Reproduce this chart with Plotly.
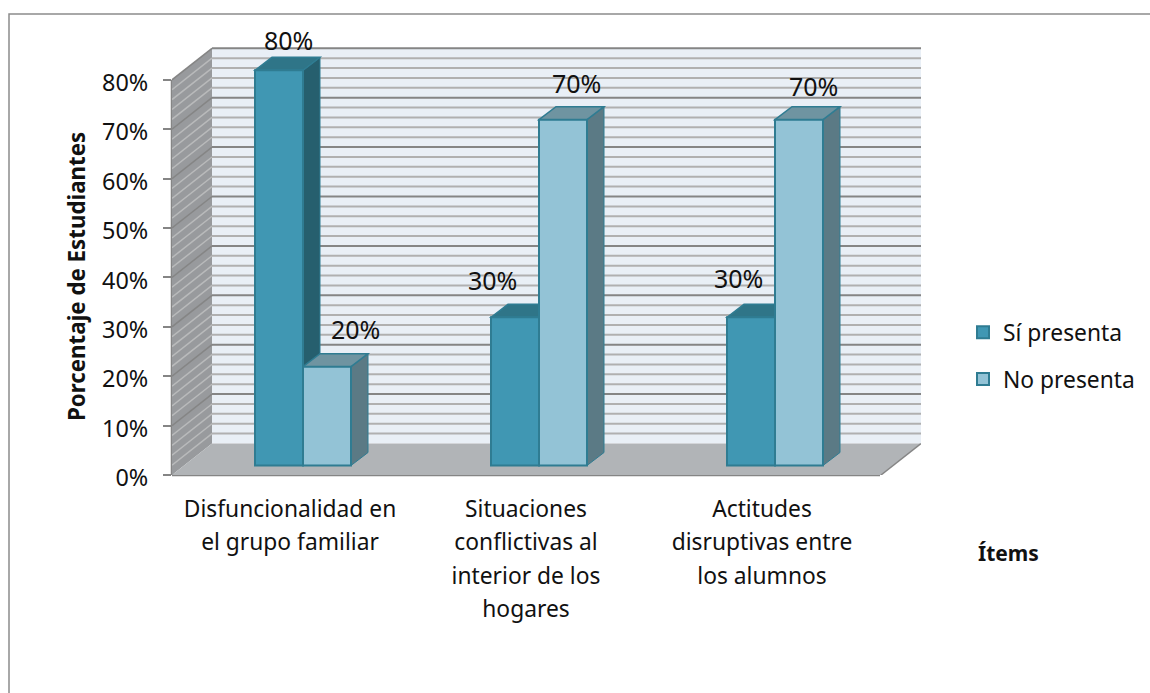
import plotly.graph_objects as go

categories = ["Disfuncionalidad en<br>el grupo familiar",
              "Situaciones<br>conflictivas al<br>interior de los<br>hogares",
              "Actitudes<br>disruptivas entre<br>los alumnos"]
si_presenta = [80, 30, 30]
no_presenta = [20, 70, 70]
series_names = ["Sí presenta", "No presenta"]
y_ticks = [0, 10, 20, 30, 40, 50, 60, 70, 80]
minor_ticks = [v for v in range(0, 81, 2) if v % 10 != 0]

FONT = "Noto Sans"
FS = 22.8
W, H = 1150, 693
L, R, T, B = 172, 921, 46, 475          # plot area in px
PX_CAT = 236.0                           # px per category
PX_PCT = 4.94                            # px per percent
WALL_DX, WALL_DY = 40 / PX_CAT, 31.5 / PX_PCT   # depth of the whole box
XMIN, XMAX = -0.5, 2.5 + (R - L - 3 * PX_CAT) / PX_CAT
YMAX = (B - T) / PX_PCT
BAR_W = 48 / PX_CAT
BAR_SHIFT = 13 / PX_CAT                  # bar front plane offset
BAR_BASE = 9.5 / PX_PCT
BAR_DX, BAR_DY = 17 / PX_CAT, 13 / PX_PCT

C_DARK, C_DARK_TOP, C_DARK_SIDE = "#4097b3", "#2f7588", "#265f6e"
C_LIGHT, C_LIGHT_TOP, C_LIGHT_SIDE = "#93c3d6", "#6f94a1", "#5b7a85"
C_EDGE = "#2f7c92"
C_WALL, C_SIDEWALL, C_FLOOR = "#e9eff6", "#989a9d", "#b1b4b7"
C_MAJOR, C_MINOR, C_MINOR_SIDE = "#858585", "#b0b0b0", "#b9babb"


def px(x):
    return (x - L) / (R - L)


def py(y):
    return (B - y) / (B - T)


def poly(pts, fill, line=None, lw=0):
    d = "M" + " L".join(f"{a},{b}" for a, b in pts) + " Z"
    return dict(type="path", path=d, xref="x", yref="y", layer="below",
                fillcolor=fill, line=dict(width=lw, color=line or fill))


def seg(x0, y0, x1, y1, color, w=2):
    return dict(type="line", xref="x", yref="y", layer="below", x0=x0, y0=y0,
                x1=x1, y1=y1, line=dict(color=color, width=w))


shapes = []
top = y_ticks[-1]
shapes.append(poly([(XMIN + WALL_DX, WALL_DY), (XMAX, WALL_DY), (XMAX, top + WALL_DY),
                    (XMIN + WALL_DX, top + WALL_DY)], C_WALL))
shapes.append(poly([(XMIN, 0), (XMIN + WALL_DX, WALL_DY), (XMIN + WALL_DX, top + WALL_DY),
                    (XMIN, top)], C_SIDEWALL))
shapes.append(poly([(XMIN, 0), (XMIN + WALL_DX, WALL_DY), (XMAX, WALL_DY),
                    (XMAX - WALL_DX, 0)], C_FLOOR))
for v in minor_ticks:
    shapes.append(seg(XMIN + WALL_DX, v + WALL_DY, XMAX, v + WALL_DY, C_MINOR))
    shapes.append(seg(XMIN, v, XMIN + WALL_DX, v + WALL_DY, C_MINOR_SIDE, 1.5))
for v in y_ticks[1:]:
    shapes.append(seg(XMIN + WALL_DX, v + WALL_DY, XMAX, v + WALL_DY, C_MAJOR))
    shapes.append(seg(XMIN, v, XMIN + WALL_DX, v + WALL_DY, C_MAJOR, 1.5))
shapes.append(seg(XMAX - WALL_DX, 0, XMAX, WALL_DY, C_MAJOR, 1.5))
shapes.append(dict(type="line", xref="paper", yref="paper", layer="below",
                   x0=px(L), x1=px(L), y0=py(B), y1=py(B) + top * PX_PCT / (B - T),
                   line=dict(color=C_MAJOR, width=2.5)))
shapes.append(dict(type="line", xref="paper", yref="paper", layer="below",
                   x0=px(L), x1=px(880), y0=py(B), y1=py(B),
                   line=dict(color=C_MAJOR, width=2.5)))
for i in range(len(categories)):
    for j, (vals, ct, cs) in enumerate([(si_presenta, C_DARK_TOP, C_DARK_SIDE),
                                        (no_presenta, C_LIGHT_TOP, C_LIGHT_SIDE)]):
        v = vals[i] + BAR_BASE
        x0 = i + BAR_SHIFT + (j - 1) * BAR_W
        x1 = x0 + BAR_W
        shapes.append(poly([(x1, BAR_BASE), (x1 + BAR_DX, BAR_BASE + BAR_DY),
                            (x1 + BAR_DX, v + BAR_DY), (x1, v)], cs, C_EDGE, 1))
        shapes.append(poly([(x0, v), (x0 + BAR_DX, v + BAR_DY), (x1 + BAR_DX, v + BAR_DY),
                            (x1, v)], ct, C_EDGE, 1.5))
shapes.append(dict(type="path", xref="paper", yref="paper", layer="below",
                   path=f"M{px(9)},{py(H)} L{px(9)},{py(14)} L{px(W)},{py(14)}",
                   line=dict(color="#8c8c8c", width=1.5)))

fig = go.Figure()
x_pos = list(range(len(categories)))
for j, (name, vals, col) in enumerate(zip(series_names, [si_presenta, no_presenta], [C_DARK, C_LIGHT])):
    fig.add_bar(x=x_pos, y=vals, base=BAR_BASE, name=name, width=BAR_W,
                offset=BAR_SHIFT + (j - 1) * BAR_W, legendgroup=name,
                marker=dict(color=col, line=dict(color=C_EDGE, width=2)),
                hovertemplate="%{y}%<extra>" + name + "</extra>")

annotations = []
label_shift = {(0, 0): (9, 30), (0, 1): (28, 38), (1, 0): (-23, 37),
               (1, 1): (13, 37), (2, 0): (-13, 39), (2, 1): (14, 34)}
for j, vals in enumerate([si_presenta, no_presenta]):
    for i, v in enumerate(vals):
        sx, sy = label_shift[(i, j)]
        annotations.append(dict(x=i + BAR_SHIFT + (j - 0.5) * BAR_W,
                                y=v + BAR_BASE, xref="x", yref="y", text=f"{v}%", showarrow=False,
                                xshift=sx, yshift=sy, font=dict(family=FONT, size=25, color="#111"),
                                xanchor="center", yanchor="middle"))
annotations.append(dict(x=px(76), y=py(276), xref="paper", yref="paper", text="<b>Porcentaje de Estudiantes</b>",
                        xanchor="center", yanchor="middle",
                        textangle=-90, showarrow=False, font=dict(family=FONT, size=22.3, color="#111")))
annotations.append(dict(x=px(1008), y=py(553), xref="paper", yref="paper", text="<b>Ítems</b>",
                        xanchor="center", yanchor="middle",
                        showarrow=False, font=dict(family=FONT, size=21, color="#111")))

tick_text = ["<br>".join(f'<span style="font-size:{FS}px">{ln}</span>' for ln in c.split("<br>"))
             for c in categories]

fig.update_layout(
    width=W, height=H, margin=dict(l=L, r=W - R, t=T, b=H - B, autoexpand=False),
    paper_bgcolor="white", plot_bgcolor="white", barmode="overlay",
    font=dict(family=FONT, size=FS, color="#111"),
    shapes=shapes, annotations=annotations,
    xaxis=dict(range=[XMIN, XMAX], tickvals=x_pos, ticktext=tick_text, tickangle=0,
               tickfont=dict(family=FONT, size=25.8, color="#111"), showgrid=False, zeroline=False,
               showline=False, ticks="", ticklabelstandoff=15, automargin=False),
    yaxis=dict(range=[0, YMAX], tickvals=y_ticks, ticktext=[f"{v}%" for v in y_ticks],
               tickfont=dict(family=FONT, size=23.4, color="#111"), showgrid=False, zeroline=False,
               showline=False, ticks="outside", ticklen=8, tickcolor=C_MAJOR, tickwidth=2,
               ticklabelstandoff=10, ticklabelshift=3, automargin=False),
    legend=dict(x=px(963), y=py(311), xanchor="left", yanchor="top", tracegroupgap=14,
                traceorder="grouped", font=dict(family=FONT, size=FS, color="#111"),
                bgcolor="rgba(0,0,0,0)"),
    showlegend=True,
)
fig.write_html("out.html", post_script="document.body.style.margin='0';",
               config={"displayModeBar": False})
